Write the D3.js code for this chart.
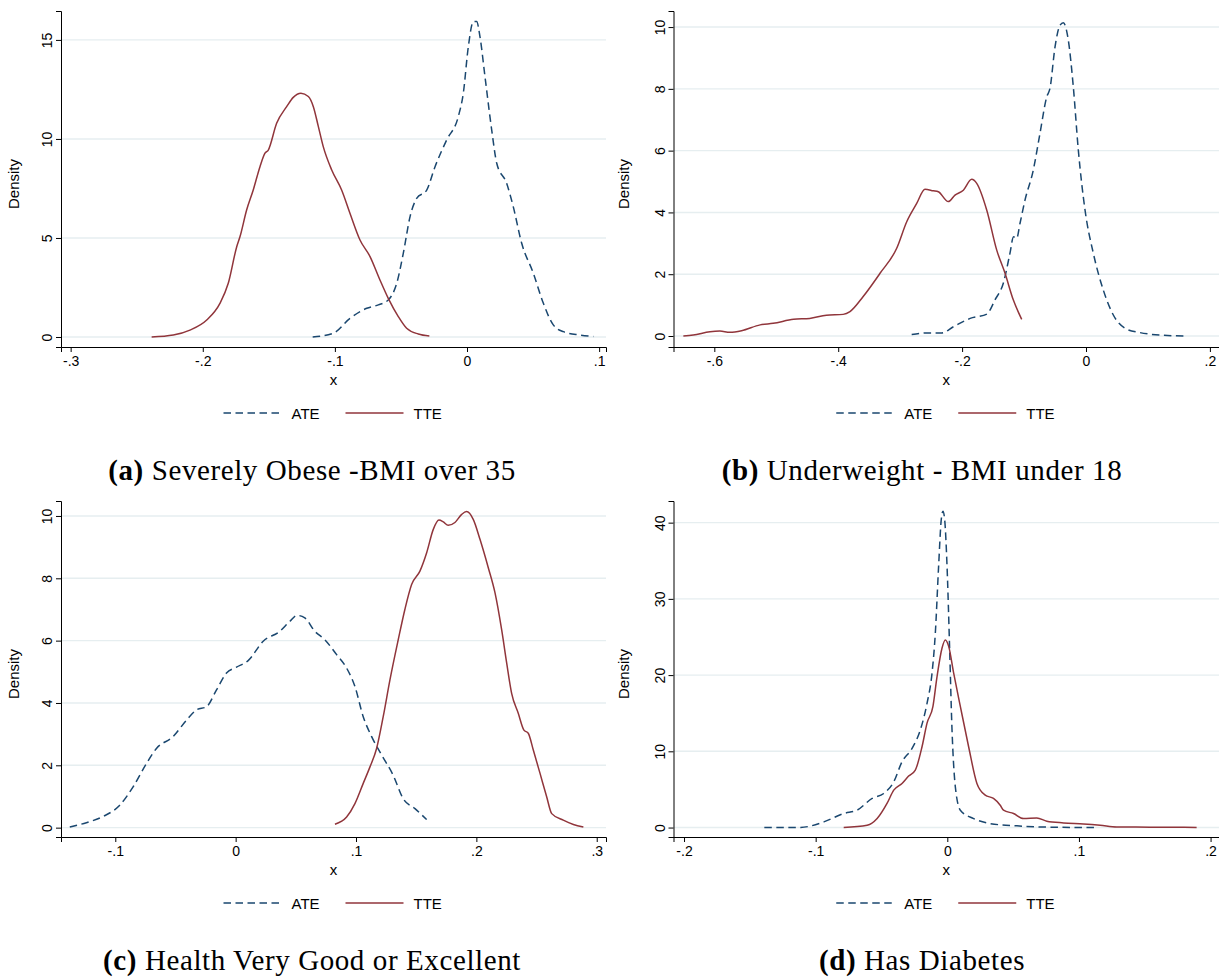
<!DOCTYPE html>
<html>
<head>
<meta charset="utf-8">
<script src="https://cdn.jsdelivr.net/npm/d3@7"></script>
<style>
  body { margin: 0; background: #fff; }
  svg { display: block; }
  .tick text { font-family: "Liberation Sans", Arial, sans-serif; }
</style>
</head>
<body>
<svg id="chart" width="1219" height="979"></svg>
<script>
// ---------- data ----------
const aATE = [[-0.1168,0],[-0.1012,0.19],[-0.0886,0.94],[-0.0759,1.45],[-0.0671,1.62],[-0.0596,1.87],[-0.0532,2.71],[-0.0482,4.23],[-0.0431,6.08],[-0.0381,7.0],[-0.0305,7.42],[-0.0242,8.6],[-0.0154,9.95],[-0.0066,11.13],[-0.0028,12.31],[0.001,14.66],[0.0048,15.93],[0.0073,15.93],[0.0098,15.17],[0.0136,13.15],[0.0187,10.45],[0.0225,8.77],[0.03,7.76],[0.035,6.58],[0.0414,4.73],[0.0502,3.22],[0.0578,1.7],[0.0653,0.61],[0.0729,0.27],[0.0855,0.1],[0.0956,0.02]];
const aTTE = [[-0.2387,0],[-0.2223,0.1],[-0.2097,0.35],[-0.197,0.86],[-0.187,1.7],[-0.1807,2.71],[-0.1743,4.56],[-0.1718,5.07],[-0.1668,6.41],[-0.1618,7.42],[-0.1567,8.6],[-0.1529,9.28],[-0.1504,9.44],[-0.1441,10.79],[-0.1365,11.63],[-0.1315,12.1],[-0.1257,12.31],[-0.1201,12.14],[-0.1163,11.63],[-0.1125,10.62],[-0.1088,9.61],[-0.1024,8.43],[-0.0949,7.42],[-0.0886,6.25],[-0.081,4.9],[-0.0734,4.06],[-0.0659,2.88],[-0.0596,1.95],[-0.052,1.03],[-0.0457,0.44],[-0.0369,0.15],[-0.0285,0.05]];

const bATE = [[-0.2814,0.05],[-0.257,0.1],[-0.233,0.1],[-0.214,0.3],[-0.187,0.57],[-0.16,0.71],[-0.1469,1.17],[-0.1335,1.71],[-0.1227,2.68],[-0.117,3.21],[-0.112,3.16],[-0.1065,3.65],[-0.0985,4.4],[-0.0851,5.37],[-0.0743,6.56],[-0.0634,7.74],[-0.0581,8.02],[-0.05,9.36],[-0.042,10.06],[-0.0366,10.14],[-0.0286,9.58],[-0.0205,8.07],[-0.0124,6.02],[-0.0016,4.08],[0.0118,2.68],[0.0279,1.49],[0.0441,0.68],[0.0657,0.22],[0.0872,0.11],[0.1194,0.03],[0.1625,0]];
const bTTE = [[-0.65,0],[-0.634,0.03],[-0.607,0.14],[-0.591,0.16],[-0.575,0.12],[-0.556,0.17],[-0.526,0.36],[-0.505,0.41],[-0.472,0.54],[-0.446,0.57],[-0.419,0.67],[-0.392,0.7],[-0.381,0.79],[-0.36,1.27],[-0.3325,2.03],[-0.3056,2.84],[-0.2894,3.7],[-0.2733,4.29],[-0.2599,4.75],[-0.2465,4.7],[-0.2384,4.67],[-0.2223,4.35],[-0.2115,4.56],[-0.198,4.72],[-0.1845,5.07],[-0.1764,4.94],[-0.1603,4.08],[-0.1441,2.78],[-0.1307,2.03],[-0.1174,1.17],[-0.1038,0.54]];

const cATE = [[-0.1378,0.02],[-0.124,0.16],[-0.11,0.36],[-0.0963,0.72],[-0.0852,1.31],[-0.0741,2.06],[-0.0658,2.54],[-0.052,2.92],[-0.0408,3.45],[-0.0325,3.78],[-0.0242,3.88],[-0.0159,4.42],[-0.0076,4.96],[0.0007,5.15],[0.0104,5.36],[0.0229,5.98],[0.0367,6.3],[0.0451,6.62],[0.0511,6.81],[0.0575,6.73],[0.0658,6.3],[0.0741,6.03],[0.0839,5.55],[0.0922,5.12],[0.0991,4.53],[0.106,3.56],[0.113,2.92],[0.1213,2.33],[0.1309,1.68],[0.1392,0.93],[0.149,0.61],[0.1587,0.26]];
const cTTE = [[0.0825,0.11],[0.0922,0.34],[0.0991,0.77],[0.106,1.42],[0.1116,1.95],[0.1171,2.54],[0.1226,3.56],[0.1282,4.74],[0.1351,6.03],[0.1406,7.0],[0.1462,7.8],[0.1531,8.23],[0.1587,8.82],[0.1642,9.57],[0.1689,9.87],[0.1725,9.81],[0.1766,9.7],[0.1822,9.79],[0.1878,10.05],[0.1919,10.14],[0.1974,9.89],[0.203,9.25],[0.2099,8.34],[0.2155,7.53],[0.221,6.35],[0.2252,5.28],[0.2293,4.31],[0.2348,3.67],[0.2395,3.13],[0.2431,3.03],[0.2473,2.49],[0.2529,1.74],[0.2584,0.99],[0.2626,0.45],[0.2722,0.24],[0.2806,0.1],[0.2889,0.02]];

const dATE = [[-0.139,0],[-0.1115,0.02],[-0.0938,0.74],[-0.0787,1.84],[-0.0685,2.28],[-0.0571,3.82],[-0.0483,4.47],[-0.0407,6.0],[-0.0344,8.63],[-0.0268,10.39],[-0.0205,12.8],[-0.0154,16.3],[-0.0116,20.26],[-0.0091,25.5],[-0.0066,34.3],[-0.0046,40.4],[-0.0033,41.5],[-0.002,40.4],[-0.0002,34.3],[0.0018,23.3],[0.0035,13.2],[0.0061,5.34],[0.0099,2.28],[0.02,1.18],[0.0326,0.52],[0.0529,0.22],[0.078,0.05],[0.1148,0]];
const dTTE = [[-0.0787,0],[-0.0609,0.3],[-0.0533,1.18],[-0.0458,3.16],[-0.0407,4.9],[-0.0344,5.79],[-0.0294,6.75],[-0.0243,7.54],[-0.0192,10.6],[-0.0154,13.7],[-0.0109,15.9],[-0.0078,19.8],[-0.004,23.55],[-0.0015,24.6],[0.001,23.8],[0.0048,20.3],[0.0099,15.9],[0.0162,10.6],[0.0225,5.79],[0.0288,4.25],[0.0351,3.82],[0.0402,2.93],[0.0427,2.28],[0.0503,1.84],[0.0579,1.18],[0.068,1.26],[0.0756,0.83],[0.0883,0.61],[0.1034,0.47],[0.1161,0.3],[0.1288,0.08],[0.154,0.05],[0.1894,0.02]];

// axis ticks
const aXTicks = [-0.3, -0.2, -0.1, 0, 0.1];
const aYTicks = [0, 5, 10, 15];
const bXTicks = [-0.6, -0.4, -0.2, 0, 0.2];
const bYTicks = [0, 2, 4, 6, 8, 10];
const cXTicks = [-0.1, 0, 0.1, 0.2, 0.3];
const cYTicks = [0, 2, 4, 6, 8, 10];
const dXTicks = [-0.2, -0.1, 0, 0.1, 0.2];
const dYTicks = [0, 10, 20, 30, 40];

// axis ranges
const aXDomain = [-0.3073, 0.1052], aYDomain = [-0.505, 16.46];
const bXDomain = [-0.6659, 0.2147], bYDomain = [-0.356, 10.52];
const cXDomain = [-0.1451, 0.3077], cYDomain = [-0.30, 10.48];
const dXDomain = [-0.208, 0.2064], dYDomain = [-1.24, 42.84];

const SERIES = ["ATE", "TTE"];
const CAPTIONS = [
  ["(a)", "Severely Obese -BMI over 35"],
  ["(b)", "Underweight - BMI under 18"],
  ["(c)", "Health Very Good or Excellent"],
  ["(d)", "Has Diabetes"]
];

// ---------- layout ----------
const panels = [
  { ox: 0,   oy: 0,   left: 61,   right: 606, ate: aATE, tte: aTTE, xt: aXTicks, yt: aYTicks, xd: aXDomain, yd: aYDomain },
  { ox: 610, oy: 0,   left: 63.5, right: 609, ate: bATE, tte: bTTE, xt: bXTicks, yt: bYTicks, xd: bXDomain, yd: bYDomain },
  { ox: 0,   oy: 490, left: 61,   right: 606, ate: cATE, tte: cTTE, xt: cXTicks, yt: cYTicks, xd: cXDomain, yd: cYDomain },
  { ox: 610, oy: 490, left: 63.5, right: 609, ate: dATE, tte: dTTE, xt: dXTicks, yt: dYTicks, xd: dXDomain, yd: dYDomain }
];
const TOP = 11, BOTTOM = 347;
const NAVY = "#1a476f", MAROON = "#90353b", GRID = "#e6eef0";
const DASH = "7.5,4.5";
const SANS = "'Liberation Sans', Arial, sans-serif";
const SERIF = "'Liberation Serif', 'Times New Roman', serif";

// Stata style: "-.3", "0", ".1"
const fmt = v => {
  if (Math.abs(v) < 1e-9) return "0";
  return String(+v.toFixed(3)).replace(/^(-?)0\./, "$1.");
};

const svg = d3.select("#chart");
svg.append("rect").attr("width", 1219).attr("height", 979).attr("fill", "#fff");

panels.forEach((p, i) => {
  const g = svg.append("g").attr("transform", `translate(${p.ox},${p.oy})`);
  const x = d3.scaleLinear().domain(p.xd).range([p.left, p.right]);
  const y = d3.scaleLinear().domain(p.yd).range([BOTTOM, TOP]);

  // gridlines
  g.append("g").selectAll("line").data(p.yt).join("line")
    .attr("x1", p.left).attr("x2", p.right)
    .attr("y1", d => y(d)).attr("y2", d => y(d))
    .attr("stroke", GRID).attr("stroke-width", 1.4);

  // curves
  const line = d3.line().x(d => x(d[0])).y(d => y(d[1])).curve(d3.curveMonotoneX);
  g.append("path").datum(p.ate).attr("d", line)
    .attr("fill", "none").attr("stroke", NAVY).attr("stroke-width", 1.5)
    .attr("stroke-dasharray", DASH);
  g.append("path").datum(p.tte).attr("d", line)
    .attr("fill", "none").attr("stroke", MAROON).attr("stroke-width", 1.5);

  // x axis
  const xAxis = g.append("g").attr("transform", `translate(0,${BOTTOM})`)
    .call(d3.axisBottom(x).tickValues(p.xt).tickFormat(fmt).tickSizeOuter(0).tickSize(5).tickPadding(4));
  xAxis.select(".domain").attr("stroke", "#000");
  xAxis.selectAll(".tick line").attr("stroke", "#000");
  xAxis.selectAll(".tick text").attr("font-size", 14).attr("fill", "#000");

  // y axis
  const yAxis = g.append("g").attr("transform", `translate(${p.left},0)`)
    .call(d3.axisLeft(y).tickValues(p.yt).tickFormat(fmt).tickSizeOuter(0).tickSize(5));
  yAxis.select(".domain").attr("stroke", "#000");
  yAxis.selectAll(".tick line").attr("stroke", "#000");
  yAxis.selectAll(".tick text")
    .attr("font-size", 14).attr("fill", "#000")
    .attr("x", null).attr("dy", null)
    .attr("text-anchor", "middle")
    .attr("transform", "translate(-9,0) rotate(-90)");

  // axis titles
  const cx = (p.left + p.right) / 2;
  g.append("text").attr("x", cx).attr("y", 385)
    .attr("text-anchor", "middle").attr("font-family", SANS).attr("font-size", 15)
    .text("x");
  g.append("text").attr("transform", `translate(19,${(TOP + BOTTOM) / 2 + 5}) rotate(-90)`)
    .attr("text-anchor", "middle").attr("font-family", SANS).attr("font-size", 15)
    .text("Density");

  // legend
  const lg = g.append("g").attr("transform", `translate(${cx - 110},413)`);
  const keyX = [0, 122];
  SERIES.forEach((s, k) => {
    lg.append("line").attr("x1", keyX[k]).attr("x2", keyX[k] + 58).attr("y1", 0).attr("y2", 0)
      .attr("stroke", k === 0 ? NAVY : MAROON).attr("stroke-width", 1.5)
      .attr("stroke-dasharray", k === 0 ? DASH : null);
    lg.append("text").attr("x", keyX[k] + 68).attr("y", 5.5)
      .attr("font-family", SANS).attr("font-size", 15).text(s);
  });

  // caption
  const cap = g.append("text").attr("x", 312).attr("y", 480)
    .attr("text-anchor", "middle").attr("font-family", SERIF).attr("font-size", 29)
    .attr("letter-spacing", 0.6);
  cap.append("tspan").attr("font-weight", "bold").text(CAPTIONS[i][0]);
  cap.append("tspan").text(" " + CAPTIONS[i][1]);
});
</script>
</body>
</html>
